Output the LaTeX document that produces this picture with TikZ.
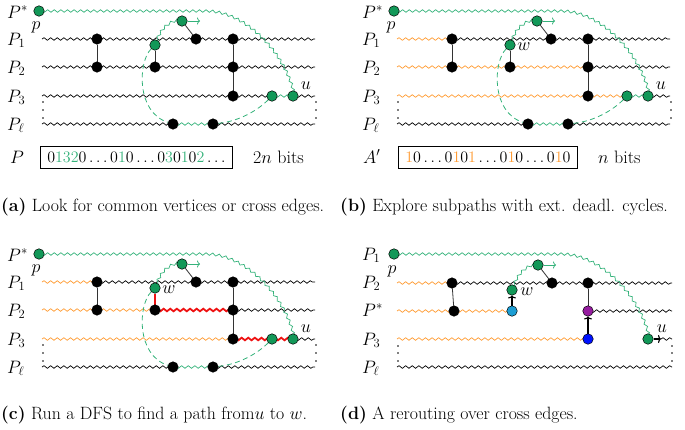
\RequirePackage{fix-cm}
\documentclass[tikz,border=0pt]{standalone}
\usetikzlibrary{decorations.pathmorphing,arrows.meta,backgrounds}
\definecolor{gnode}{RGB}{18,152,88}
\definecolor{gline}{RGB}{52,178,122}
\definecolor{orng}{RGB}{255,155,50}
\definecolor{redc}{RGB}{238,18,18}
\definecolor{cyanv}{RGB}{28,158,212}
\definecolor{purp}{RGB}{150,28,160}
\definecolor{bluev}{RGB}{0,18,255}
\tikzset{
  lab/.style={font=\fontsize{18}{21}\selectfont, inner sep=0pt},
  capt/.style={font=\fontsize{17.8}{21}\selectfont, inner sep=0pt, anchor=west},
  wv/.style={decorate, decoration={snake, amplitude=1.3pt, segment length=6.6pt}, line width=0.7pt},
  bk/.style={wv, draw=black},
  og/.style={wv, draw=orng},
  gw/.style={wv, draw=gline},
  rd/.style={wv, draw=redc, line width=1.8pt},
  gd/.style={draw=gline, line width=0.8pt, dash pattern=on 5pt off 3.5pt},
  vtx/.style={circle, draw=black, minimum size=10.5pt, inner sep=0pt, line width=0.5pt},
  bv/.style={vtx, fill=black},
  gv/.style={vtx, fill=gnode},
  cv/.style={vtx, fill=cyanv},
  pv/.style={vtx, fill=purp},
  blv/.style={vtx, fill=bluev},
  cross/.style={draw=black!80, line width=0.8pt},
  garr/.style={draw=gline, line width=0.8pt, -{To[length=3pt,width=7pt]}},
  karr/.style={draw=black, line width=1.1pt, -{To[length=3pt,width=8pt]}},
  boxn/.style={font=\fontsize{16}{19}\selectfont, draw, line width=0.6pt, anchor=west, minimum height=22pt, inner xsep=7pt, inner ysep=0pt},
}
\begin{document}
\begin{tikzpicture}[x=1pt,y=-1pt]
\useasboundingbox (0,0) rectangle (685,429);

% ================= panel (a)
\begin{scope}
\node[lab,anchor=base west] (aLs) at (7,18) {$P^*$};
\node[lab,anchor=base west] (aL1) at (7,45) {$P_1$};
\node[lab,anchor=base west] (aL2) at (7,73) {$P_2$};
\node[lab,anchor=base west] (aL3) at (7,102) {$P_3$};
\node[lab,anchor=base west] (aLl) at (7,130) {$P_\ell$};
\coordinate (aS1) at (42,39); \coordinate (aE1) at (315,39);
\coordinate (aS2) at (42,67); \coordinate (aE2) at (315,67);
\coordinate (aS3) at (42,96); \coordinate (aE3) at (315,96);
\coordinate (aSl) at (42,124); \coordinate (aEl) at (315,124);
\node[gv] (ap) at (39,11) {};
\node[lab] (apl) at (36,27) {$p$};
\node[bv] (a11) at (97,39) {}; \node[bv] (a21) at (97,67) {};
\node[gv] (aw) at (155,45) {}; \node[bv] (a22) at (155,67) {};
\node[gv] (ag) at (182,21) {}; \node[bv] (a12) at (196,39) {};
\node[bv] (a13) at (233,39) {}; \node[bv] (a23) at (233,67) {}; \node[bv] (a33) at (233,96) {};
\node[bv] (al1) at (173,124) {}; \node[bv] (al2) at (213,124) {};
\node[gv] (ag3) at (272,96) {}; \node[gv] (au) at (293,96) {};
\node[lab] (aul) at (306,86) {$u$};
\foreach \yy in {102,110,118} {\fill (43,\yy) circle (0.9pt); \fill (316,\yy) circle (0.9pt);}
\node[lab,anchor=base west] (aPl) at (10,163) {$P$};
\node[boxn] (abox) at (40,157) {$0\textcolor{gline}{132}0\ldots0\textcolor{gline}{1}0\ldots0\textcolor{gline}{3}0\textcolor{gline}{1}0\textcolor{gline}{2}\ldots$};
\node[lab,anchor=base west] (abits) at (253,163) {$2n$ bits};
\node[capt] (acap) at (1,207) {\textbf{(a)} Look for common vertices or cross edges.};
\begin{pgfonlayer}{background}
\draw[bk] (aS1) -- (aE1);
\draw[bk] (aS2) -- (aE2);
\draw[bk] (aS3) -- (ag3.center);
\draw[gw] (ag3.center) -- (au.center);
\draw[bk] (au.center) -- (aE3);
\draw[bk] (aSl) -- (al1.center);
\draw[gw] (al1.center) -- (al2.center);
\draw[bk] (al2.center) -- (aEl);
\draw[gw] (ap.center) -- (205,11) .. controls (245,11) and (285,55) .. (au.center);
\draw[gw] (aw.center) .. controls (160,30) and (168,22) .. (ag.center);
\draw[gd] (aw) .. controls (138,62) and (136,112) .. (al1);
\draw[gd] (al2) .. controls (240,121) and (258,110) .. (ag3);
\draw[cross] (a11) -- (a21);
\draw[cross] (aw) -- (a22);
\draw[cross] (ag) -- (a12);
\draw[cross] (a13) -- (a33);
\end{pgfonlayer}
\draw[garr] (ag.east) -- (200,21);
\end{scope}

% ================= panel (b)
\begin{scope}[shift={(355,0)}]
\node[lab,anchor=base west] (bLs) at (7,18) {$P^*$};
\node[lab,anchor=base west] (bL1) at (7,45) {$P_1$};
\node[lab,anchor=base west] (bL2) at (7,73) {$P_2$};
\node[lab,anchor=base west] (bL3) at (7,102) {$P_3$};
\node[lab,anchor=base west] (bLl) at (7,130) {$P_\ell$};
\coordinate (bS1) at (42,39); \coordinate (bE1) at (315,39);
\coordinate (bS2) at (42,67); \coordinate (bE2) at (315,67);
\coordinate (bS3) at (42,96); \coordinate (bE3) at (315,96);
\coordinate (bSl) at (42,124); \coordinate (bEl) at (315,124);
\node[gv] (bp) at (39,11) {};
\node[lab] (bpl) at (36,27) {$p$};
\node[bv] (b11) at (97,39) {}; \node[bv] (b21) at (97,67) {};
\node[gv] (bw) at (155,45) {}; \node[bv] (b22) at (155,67) {};
\node[lab] (bwl) at (169,47) {$w$};
\node[gv] (bg) at (182,21) {}; \node[bv] (b12) at (196,39) {};
\node[bv] (b13) at (233,39) {}; \node[bv] (b23) at (233,67) {}; \node[bv] (b33) at (233,96) {};
\node[bv] (bl1) at (173,124) {}; \node[bv] (bl2) at (213,124) {};
\node[gv] (bg3) at (272,96) {}; \node[gv] (bu) at (293,96) {};
\node[lab] (bul) at (306,86) {$u$};
\foreach \yy in {102,110,118} {\fill (43,\yy) circle (0.9pt); \fill (316,\yy) circle (0.9pt);}
\node[lab,anchor=base west] (bAl) at (8,163) {$A'$};
\node[boxn] (bbox) at (43,157) {$\textcolor{orng}{1}0\ldots0\textcolor{orng}{1}0\textcolor{orng}{1}\ldots0\textcolor{orng}{1}0\ldots0\textcolor{orng}{1}0$};
\node[lab,anchor=base west] (bbits) at (243,163) {$n$ bits};
\begin{pgfonlayer}{background}
\draw[og] (bS1) -- (b11.center);
\draw[bk] (b11.center) -- (bE1);
\draw[og] (bS2) -- (b23.center);
\draw[bk] (b23.center) -- (bE2);
\draw[og] (bS3) -- (bg3.center);
\draw[gw] (bg3.center) -- (bu.center);
\draw[bk] (bu.center) -- (bE3);
\draw[bk] (bSl) -- (bl1.center);
\draw[gw] (bl1.center) -- (bl2.center);
\draw[bk] (bl2.center) -- (bEl);
\draw[gw] (bp.center) -- (205,11) .. controls (245,11) and (285,55) .. (bu.center);
\draw[gw] (bw.center) .. controls (160,30) and (168,22) .. (bg.center);
\draw[gd] (bw) .. controls (138,62) and (136,112) .. (bl1);
\draw[gd] (bl2) .. controls (240,121) and (258,110) .. (bg3);
\draw[cross] (b11) -- (b21);
\draw[cross] (bw) -- (b22);
\draw[cross] (bg) -- (b12);
\draw[cross] (b13) -- (b33);
\end{pgfonlayer}
\draw[garr] (bg.east) -- (200,21);
\end{scope}
\node[capt] (bcap) at (340,207) {\textbf{(b)} Explore subpaths with ext. deadl. cycles.};

% ================= panel (c)
\begin{scope}[shift={(0,243)}]
\node[lab,anchor=base west] (cLs) at (7,18) {$P^*$};
\node[lab,anchor=base west] (cL1) at (7,45) {$P_1$};
\node[lab,anchor=base west] (cL2) at (7,73) {$P_2$};
\node[lab,anchor=base west] (cL3) at (7,102) {$P_3$};
\node[lab,anchor=base west] (cLl) at (7,130) {$P_\ell$};
\coordinate (cS1) at (42,39); \coordinate (cE1) at (315,39);
\coordinate (cS2) at (42,67); \coordinate (cE2) at (315,67);
\coordinate (cS3) at (42,96); \coordinate (cE3) at (315,96);
\coordinate (cSl) at (42,124); \coordinate (cEl) at (315,124);
\node[gv] (cp) at (39,11) {};
\node[lab] (cpl) at (36,27) {$p$};
\node[bv] (c11) at (97,39) {}; \node[bv] (c21) at (97,67) {};
\node[gv] (cw) at (155,45) {}; \node[bv] (c22) at (155,67) {};
\node[lab] (cwl) at (169,47) {$w$};
\node[gv] (cg) at (182,21) {}; \node[bv] (c12) at (196,39) {};
\node[bv] (c13) at (233,39) {}; \node[bv] (c23) at (233,67) {}; \node[bv] (c33) at (233,96) {};
\node[bv] (cl1) at (173,124) {}; \node[bv] (cl2) at (213,124) {};
\node[gv] (cg3) at (272,96) {}; \node[gv] (cu) at (293,96) {};
\node[lab] (cul) at (306,86) {$u$};
\foreach \yy in {102,110,118} {\fill (43,\yy) circle (0.9pt); \fill (316,\yy) circle (0.9pt);}
\begin{pgfonlayer}{background}
\draw[og] (cS1) -- (c11.center);
\draw[bk] (c11.center) -- (cE1);
\draw[og] (cS2) -- (c22.center);
\draw[rd] (c22.center) -- (c23.center);
\draw[bk] (c23.center) -- (cE2);
\draw[og] (cS3) -- (c33.center);
\draw[rd] (c33.center) -- (cu.center);
\draw[bk] (cu.center) -- (cE3);
\draw[bk] (cSl) -- (cl1.center);
\draw[gw] (cl1.center) -- (cl2.center);
\draw[bk] (cl2.center) -- (cEl);
\draw[gw] (cp.center) -- (205,11) .. controls (245,11) and (285,55) .. (cu.center);
\draw[gw] (cw.center) .. controls (160,30) and (168,22) .. (cg.center);
\draw[gd] (cw) .. controls (138,62) and (136,112) .. (cl1);
\draw[gd] (cl2) .. controls (240,121) and (258,110) .. (cg3);
\draw[cross] (c11) -- (c21);
\draw[redc, line width=1.8pt] (cw) -- (c22);
\draw[cross] (cg) -- (c12);
\draw[cross] (c13) -- (c33);
\end{pgfonlayer}
\draw[garr] (cg.east) -- (200,21);
\end{scope}
\node[capt] (ccap) at (1,415) {\textbf{(c)} Run a DFS to find a path from$u$ to $w$.};

% ================= panel (d)
\begin{scope}[shift={(355,243)}]
\node[lab,anchor=base west] (dL1) at (7,17) {$P_1$};
\node[lab,anchor=base west] (dL2) at (7,45) {$P_2$};
\node[lab,anchor=base west] (dLs) at (7,73) {$P^*$};
\node[lab,anchor=base west] (dL3) at (7,102) {$P_3$};
\node[lab,anchor=base west] (dLl) at (7,130) {$P_\ell$};
\coordinate (dS2) at (42,40); \coordinate (dE2) at (317,40);
\coordinate (dSs) at (42,68); \coordinate (dEs) at (317,68);
\coordinate (dS3) at (42,96); \coordinate (dE3) at (317,96); \coordinate (dA3) at (306,96);
\coordinate (dSl) at (42,124); \coordinate (dEl) at (317,124);
\node[gv] (dp) at (39,11) {};
\node[lab] (dpl) at (37,28) {$p$};
\node[bv] (d21) at (97,40) {}; \node[bv] (ds1) at (99,68) {};
\node[gv] (dw) at (157,47) {}; \node[cv] (dcy) at (157,68) {};
\node[lab] (dwl) at (172,49) {$w$};
\node[gv] (dg) at (183,22) {}; \node[bv] (d22) at (197,40) {};
\node[bv] (d23) at (233,40) {}; \node[pv] (dpu) at (233,68) {}; \node[blv] (dbl) at (233,96) {};
\node[gv] (du) at (293,96) {};
\node[lab] (dul) at (307,86) {$u$};
\foreach \yy in {103,110,118} {\fill (43,\yy) circle (0.9pt); \fill (317,\yy) circle (0.9pt);}
\begin{pgfonlayer}{background}
\draw[og] (dS2) -- (d21.center);
\draw[bk] (d21.center) -- (dE2);
\draw[og] (dSs) -- (ds1.center);
\draw[og] (ds1.center) -- (dcy.center);
\draw[bk] (dpu.center) -- (dEs);
\draw[og] (dS3) -- (dbl.center);
\draw[bk] (dA3) -- (dE3);
\draw[bk] (dSl) -- (dEl);
\draw[gw] (dp.center) -- (205,11) .. controls (245,11) and (285,55) .. (du.center);
\draw[gw] (dw.center) .. controls (162,32) and (170,24) .. (dg.center);
\draw[cross] (d21) -- (ds1);
\draw[cross] (dg) -- (d22);
\draw[cross] (d23) -- (dpu);
\end{pgfonlayer}
\draw[garr] (dg.east) -- (201,22);
\draw[karr] (dcy) -- (dw);
\draw[karr] (dbl) -- (dpu);
\draw[karr] (du.east) -- (dA3);
\end{scope}
\node[capt] (dcap) at (340,415) {\textbf{(d)} A rerouting over cross edges.};
\end{tikzpicture}
\end{document}
